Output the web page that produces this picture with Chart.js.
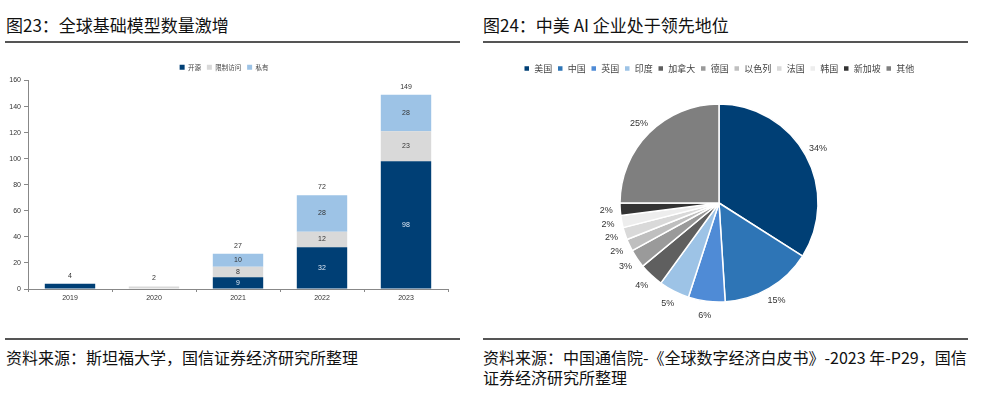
<!DOCTYPE html>
<html>
<head>
<meta charset="utf-8">
<script src="https://cdn.jsdelivr.net/npm/chart.js@4.4.0/dist/chart.umd.min.js"></script>
<style>
    body { margin: 0; width: 995px; height: 394px; background: #fff; position: relative; overflow: hidden;
           font-family: "Noto Sans CJK SC", sans-serif; color: #111; }
    .title { position: absolute; top: 13px; font-size: 17px; line-height: 24px; white-space: nowrap; }
    .rule { position: absolute; height: 2px; background: #555; }
    .src { position: absolute; font-size: 16px; line-height: 20px; white-space: nowrap; }
    canvas { position: absolute; }
</style>
</head>
<body>
<div class="title" style="left:6px">图23：全球基础模型数量激增</div>
<div class="rule" style="left:5px;width:455px;top:41px"></div>
<div class="title" style="left:483px">图24：中美 AI 企业处于领先地位</div>
<div class="rule" style="left:483px;width:485px;top:41px"></div>

<canvas id="barChart" width="470" height="255" style="left:0;top:55px"></canvas>
<canvas id="pieChart" width="472" height="280" style="left:483px;top:55px"></canvas>

<div class="rule" style="left:5px;width:455px;top:338px"></div>
<div class="rule" style="left:483px;width:485px;top:338px"></div>
<div class="src" style="left:6px;top:347px">资料来源：斯坦福大学，国信证券经济研究所整理</div>
<div class="src" style="left:483px;top:347px">资料来源：中国通信院-《全球数字经济白皮书》-2023 年-P29，国信</div>
<div class="src" style="left:483px;top:367px">证券经济研究所整理</div>

<script>
// 图23 数据
const years = ['2019', '2020', '2021', '2022', '2023'];
const openSource = [4, 0, 9, 32, 98];
const limitedAccess = [0, 2, 8, 12, 23];
const privateModels = [0, 0, 10, 28, 28];

// 图24 数据
const countries = ['美国', '中国', '英国', '印度', '加拿大', '德国', '以色列', '法国', '韩国', '新加坡', '其他'];
const shares = [34, 15, 6, 5, 4, 3, 2, 2, 2, 2, 25];
const pieColors = ['#003f75', '#2e75b6', '#4f8bd6', '#9dc3e6', '#5f5f5f', '#9a9a9a',
                   '#bfbfbf', '#d9d9d9', '#ededed', '#333333', '#7f7f7f'];

const NUM_FONT = '"Liberation Sans", Arial, sans-serif';

// Labels inside the segments + totals above each bar
const barLabels = {
    id: 'barLabels',
    afterDatasetsDraw(chart) {
        const ctx = chart.ctx;
        ctx.save();
        ctx.font = '7px ' + NUM_FONT;
        ctx.textAlign = 'center';
        ctx.textBaseline = 'middle';
        chart.data.datasets.forEach((ds, i) => {
            chart.getDatasetMeta(i).data.forEach((bar, j) => {
                const v = ds.data[j];
                if (v < 5) return;
                ctx.fillStyle = i === 0 ? '#dfe9f5' : '#333';
                ctx.fillText(v, bar.x, (bar.y + bar.base) / 2);
            });
        });
        const yScale = chart.scales.y;
        ctx.fillStyle = '#333';
        years.forEach((y, j) => {
            const total = openSource[j] + limitedAccess[j] + privateModels[j];
            const x = chart.getDatasetMeta(0).data[j].x;
            ctx.fillText(total, x, yScale.getPixelForValue(total) - 8);
        });
        ctx.restore();
    }
};

new Chart(document.getElementById('barChart'), {
    type: 'bar',
    data: {
        labels: years,
        datasets: [
            { label: '开源', data: openSource, backgroundColor: '#003f75' },
            { label: '限制访问', data: limitedAccess, backgroundColor: '#d9d9d9' },
            { label: '私有', data: privateModels, backgroundColor: '#9dc3e6' }
        ]
    },
    options: {
        responsive: false,
        animation: false,
        barPercentage: 0.6,
        categoryPercentage: 1.0,
        layout: { padding: { top: 3, right: 22, left: 0, bottom: 0 } },
        plugins: {
            legend: {
                position: 'top',
                labels: { boxWidth: 5, boxHeight: 5, padding: 6, color: '#444',
                          font: { size: 6.5, family: '"Noto Sans CJK SC"' } }
            },
            tooltip: { enabled: false }
        },
        scales: {
            x: {
                stacked: true,
                grid: { display: true, drawOnChartArea: false, tickLength: 3, color: '#888', offset: true },
                border: { color: '#888' },
                ticks: { font: { size: 7, family: NUM_FONT }, color: '#333', padding: 2 },
                afterFit(scale) { scale.height = 21; }
            },
            y: {
                stacked: true,
                min: 0,
                max: 160,
                ticks: { stepSize: 20, font: { size: 7, family: NUM_FONT }, color: '#333', padding: 3 },
                grid: { drawOnChartArea: false, tickLength: 4, color: '#888' },
                border: { color: '#888' },
                afterFit(scale) { scale.width = 28; }
            }
        }
    },
    plugins: [barLabels]
});

// Percent labels outside the pie
const pieLabels = {
    id: 'pieLabels',
    afterDatasetsDraw(chart) {
        const ctx = chart.ctx;
        ctx.save();
        ctx.font = '9px ' + NUM_FONT;
        ctx.fillStyle = '#333';
        ctx.textAlign = 'center';
        ctx.textBaseline = 'middle';
        chart.getDatasetMeta(0).data.forEach((arc, i) => {
            const mid = (arc.startAngle + arc.endAngle) / 2;
            const r = arc.outerRadius + 14;
            ctx.fillText(shares[i] + '%', arc.x + Math.cos(mid) * r, arc.y + Math.sin(mid) * r);
        });
        ctx.restore();
    }
};

new Chart(document.getElementById('pieChart'), {
    type: 'pie',
    data: {
        labels: countries,
        datasets: [{
            data: shares,
            backgroundColor: pieColors,
            borderColor: '#fff',
            borderWidth: 1.5
        }]
    },
    options: {
        responsive: false,
        animation: false,
        radius: 99,
        layout: { padding: { top: 4, bottom: 12 } },
        plugins: {
            legend: {
                position: 'top',
                labels: { boxWidth: 6, boxHeight: 6, padding: 5, color: '#444',
                          font: { size: 9, family: '"Noto Sans CJK SC"' } }
            },
            tooltip: { enabled: false }
        }
    },
    plugins: [pieLabels]
});
</script>
</body>
</html>
